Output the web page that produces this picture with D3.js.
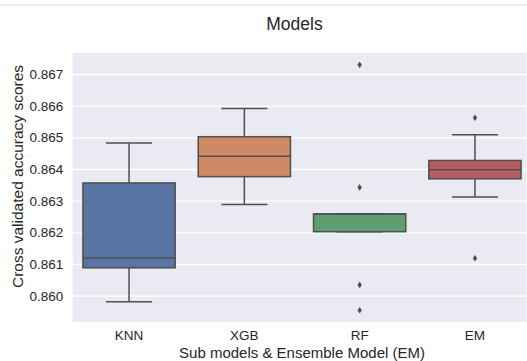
<!DOCTYPE html>
<html>
<head>
<meta charset="utf-8">
<script src="https://cdn.jsdelivr.net/npm/d3@7"></script>
<style>
  html, body { margin: 0; padding: 0; background: #fff; }
  svg { display: block; font-family: "Liberation Sans", Arial, sans-serif; }
</style>
</head>
<body>
<svg id="chart" width="527" height="361"></svg>
<script>
// ---- data ----
const categories = ["KNN", "XGB", "RF", "EM"];
const whiskerLow  = [0.85981, 0.86288, 0.86202, 0.86312];
const q1Values    = [0.86088, 0.86376, 0.86202, 0.86369];
const medians     = [0.86119, 0.86440, 0.86258, 0.86398];
const q3Values    = [0.86356, 0.86502, 0.86258, 0.86427];
const whiskerHigh = [0.86482, 0.86591, 0.86258, 0.86508];
const outliers    = [[], [], [0.86729, 0.86342, 0.86034, 0.85954], [0.86562, 0.86118]];
const yTicks      = [0.860, 0.861, 0.862, 0.863, 0.864, 0.865, 0.866, 0.867];
const colors      = ["#5875a4", "#cc8963", "#5f9e6e", "#b55d60"];
const title = "Models";
const xLabel = "Sub models & Ensemble Model (EM)";
const yLabel = "Cross validated accuracy scores";

// ---- layout ----
const svg = d3.select("#chart");
const plot = { left: 72.7, top: 52.7, right: 526.6, bottom: 322 };
const lineColor = "#4f4f4f";
const font = "'Liberation Sans', Arial, sans-serif";

const x = d3.scaleBand().domain(categories).range([71.4, 532.6]).paddingInner(0).paddingOuter(0);
const y = d3.scaleLinear().domain([0.859169, 0.867673]).range([plot.bottom, plot.top]);

// top separator line
svg.append("line").attr("x1", 0).attr("x2", 527).attr("y1", 5).attr("y2", 5)
  .attr("stroke", "#d6d6d6").attr("stroke-width", 1);

// background
svg.append("rect")
  .attr("x", plot.left).attr("y", plot.top)
  .attr("width", plot.right - plot.left).attr("height", plot.bottom - plot.top)
  .attr("fill", "#eaeaf2");

svg.append("clipPath").attr("id", "pclip").append("rect")
  .attr("x", plot.left).attr("y", plot.top)
  .attr("width", plot.right - plot.left).attr("height", plot.bottom - plot.top);

// y axis with gridlines
const yAxis = d3.axisLeft(y).tickValues(yTicks).tickFormat(d3.format(".3f"))
  .tickSize(-(plot.right - plot.left)).tickPadding(9.5);
const gy = svg.append("g").attr("transform", `translate(${plot.left},0)`).call(yAxis);
gy.select(".domain").remove();
gy.selectAll(".tick line").attr("stroke", "#ffffff").attr("stroke-width", 1.3);
gy.selectAll(".tick text").attr("fill", "#262626").style("font-size", "13.5px")
  .style("font-family", font);

// x axis
const xAxis = d3.axisBottom(x).tickSize(0).tickPadding(8.5);
const gx = svg.append("g").attr("transform", `translate(0,${plot.bottom})`).call(xAxis);
gx.select(".domain").remove();
gx.selectAll(".tick text").attr("fill", "#262626").style("font-size", "13.5px")
  .style("font-family", font);

// boxes
const g = svg.append("g").attr("clip-path", "url(#pclip)");
const bw = x.bandwidth() * 0.8;
categories.forEach((c, i) => {
  const cx = x(c) + x.bandwidth() / 2;
  const capW = bw / 2;
  const gg = g.append("g");
  // whiskers
  gg.append("line").attr("x1", cx).attr("x2", cx)
    .attr("y1", y(q3Values[i])).attr("y2", y(whiskerHigh[i]))
    .attr("stroke", lineColor).attr("stroke-width", 1.5);
  gg.append("line").attr("x1", cx).attr("x2", cx)
    .attr("y1", y(q1Values[i])).attr("y2", y(whiskerLow[i]))
    .attr("stroke", lineColor).attr("stroke-width", 1.5);
  // box
  gg.append("rect")
    .attr("x", cx - bw / 2).attr("width", bw)
    .attr("y", y(q3Values[i])).attr("height", Math.max(0, y(q1Values[i]) - y(q3Values[i])))
    .attr("fill", colors[i]).attr("stroke", lineColor).attr("stroke-width", 1.5);
  // caps
  [whiskerHigh[i], whiskerLow[i]].forEach(v => {
    gg.append("line").attr("x1", cx - capW / 2).attr("x2", cx + capW / 2)
      .attr("y1", y(v)).attr("y2", y(v))
      .attr("stroke", lineColor).attr("stroke-width", 1.5);
  });
  // median
  gg.append("line").attr("x1", cx - bw / 2).attr("x2", cx + bw / 2)
    .attr("y1", y(medians[i])).attr("y2", y(medians[i]))
    .attr("stroke", lineColor).attr("stroke-width", 1.5);
  // outliers (thin diamonds)
  outliers[i].forEach(v => {
    const yy = y(v);
    gg.append("path")
      .attr("d", `M${cx},${yy - 3.3} L${cx + 2.2},${yy} L${cx},${yy + 3.3} L${cx - 2.2},${yy} Z`)
      .attr("fill", lineColor);
  });
});

// title
svg.append("text").attr("x", 294.5).attr("y", 30).attr("text-anchor", "middle")
  .attr("fill", "#262626").style("font-size", "17.5px").text(title);

// x label
svg.append("text").attr("x", 302).attr("y", 358).attr("text-anchor", "middle")
  .attr("fill", "#262626").style("font-size", "15px").text(xLabel);

// y label
svg.append("text").attr("transform", `translate(23,176.5) rotate(-90)`)
  .attr("text-anchor", "middle").attr("fill", "#262626").style("font-size", "15.5px").text(yLabel);
</script>
</body>
</html>
